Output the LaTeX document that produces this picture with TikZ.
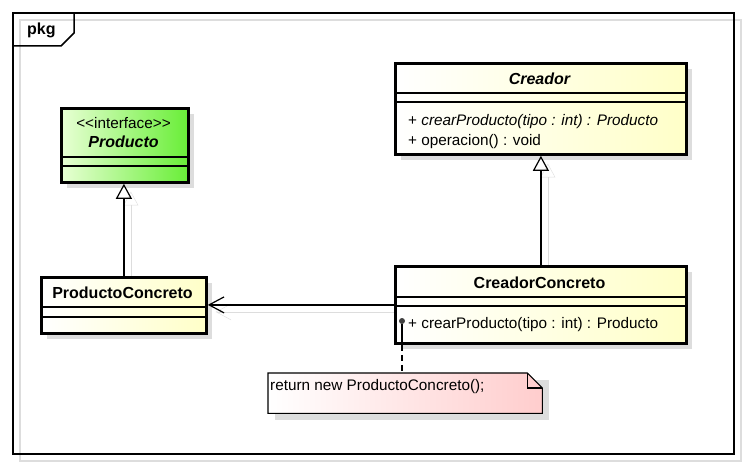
\documentclass[tikz,border=0pt]{standalone}
\usepackage{fontspec}
\setmainfont{Liberation Sans}
\usetikzlibrary{arrows.meta,shadows,positioning}

\definecolor{claseAmarillo}{RGB}{255,255,200}
\definecolor{interfazClaro}{RGB}{232,255,212}
\definecolor{interfazVerde}{RGB}{105,238,55}
\definecolor{notaRosa}{RGB}{255,205,205}
\definecolor{sombra}{RGB}{221,221,221}

\pgfdeclarelayer{sombras}
\pgfdeclarelayer{conectores}
\pgfsetlayers{sombras,conectores,main}

\tikzset{
  clase/.style={draw, line width=2.8pt, inner sep=0pt, anchor=north west,
    left color=white, right color=claseAmarillo},
  interfaz/.style={clase, left color=interfazClaro, right color=interfazVerde},
  separador/.style={line width=1.1pt},
  titulo/.style={font=\fontsize{16}{19}\selectfont\bfseries, anchor=base, inner sep=0pt},
  miembro/.style={font=\fontsize{15.3}{18}\selectfont, anchor=base west, inner sep=0pt},
  conSombra/.style={preaction={draw=sombra, transform canvas={xshift=7pt, yshift=-7pt}}},
  herencia/.style={conSombra, line width=1.2pt, -{Triangle[open, length=15pt, width=16pt, line width=1.2pt]}},
  asociacion/.style={conSombra, line width=1.2pt, -{Straight Barb[length=15pt, width=16pt, line width=1.2pt]}},
  enlaceNota/.style={line width=1.2pt, dash pattern=on 6pt off 4pt},
}

\begin{document}
\begin{tikzpicture}[x=1pt, y=-1pt]
  \useasboundingbox (0,0) rectangle (748,468);

  % Marco del paquete
  \draw[sombra, line width=1.5pt] (20,20) rectangle (741,461);
  \draw[line width=1.5pt] (13,13) rectangle (734,454);
  \draw[line width=1.5pt] (13,46) -- (61,46) -- (74,33) -- (74,13);
  \node[titulo, anchor=base west] (pkg) at (27,35) {pkg};

  % Sombras
  \begin{pgfonlayer}{sombras}
    \fill[sombra] (67,114) rectangle (194,188);
    \fill[sombra] (47,283) rectangle (212,339);
    \fill[sombra] (401,69) rectangle (692,160);
    \fill[sombra] (401,272) rectangle (692,349);
    \fill[sombra] (275,380) rectangle (549,420);
  \end{pgfonlayer}

  % Clases
  \node[interfaz, minimum width=127pt, minimum height=74pt] (producto) at (60,107) {};
  \node[clase, minimum width=165pt, minimum height=56pt] (productoConcreto) at (40,276) {};
  \node[clase, minimum width=291pt, minimum height=91pt] (creador) at (394,62) {};
  \node[clase, minimum width=291pt, minimum height=77pt] (creadorConcreto) at (394,265) {};

  % Producto
  \node[miembro, anchor=base] (productoEstereotipo) at (123.5,128.5) {{<}{<}interface{>}{>}};
  \node[titulo] (productoNombre) at (123.5,147.5) {\itshape Producto};
  \draw[separador] (producto.west |- 0,157) -- (producto.east |- 0,157);
  \draw[separador] (producto.west |- 0,166) -- (producto.east |- 0,166);

  % ProductoConcreto
  \node[titulo] (productoConcretoNombre) at (122.5,298.5) {ProductoConcreto};
  \draw[separador] (productoConcreto.west |- 0,307) -- (productoConcreto.east |- 0,307);
  \draw[separador] (productoConcreto.west |- 0,317) -- (productoConcreto.east |- 0,317);

  % Creador
  \node[titulo] (creadorNombre) at (539.5,84.5) {\itshape Creador};
  \draw[separador] (creador.west |- 0,93) -- (creador.east |- 0,93);
  \draw[separador] (creador.west |- 0,102) -- (creador.east |- 0,102);
  \node[miembro] (creadorOp1) at (408,125.5) {+ \itshape crearProducto(tipo : int) : Producto};
  \node[miembro] (creadorOp2) at (408,145.5) {+ operacion() : void};

  % CreadorConcreto
  \node[titulo] (creadorConcretoNombre) at (539.5,288.5) {CreadorConcreto};
  \draw[separador] (creadorConcreto.west |- 0,297) -- (creadorConcreto.east |- 0,297);
  \draw[separador] (creadorConcreto.west |- 0,306) -- (creadorConcreto.east |- 0,306);
  \node[miembro] (creadorConcretoOp) at (408,328.5) {+ crearProducto(tipo : int) : Producto};
  \node[circle, fill=black!75, inner sep=0pt, minimum size=6pt] (opPunto) at (402,321) {};

  % Nota
  \node[inner sep=0pt, minimum width=274pt, minimum height=40pt, anchor=north west] (nota) at (268,373) {};
  \draw[line width=1.1pt, left color=white, right color=notaRosa]
    (nota.north west) -- ([xshift=-15pt]nota.north east) -- ([yshift=-15pt]nota.north east)
    -- (nota.south east) -- (nota.south west) -- cycle;
  \draw[line width=1.1pt] ([xshift=-15pt]nota.north east) -- ([xshift=-15pt,yshift=-15pt]nota.north east)
    -- ([yshift=-15pt]nota.north east);
  \node[miembro] (notaTexto) at (270,390.5) {return new ProductoConcreto();};

  % Relaciones
  \begin{pgfonlayer}{conectores}
    \draw[herencia] (productoConcreto.north) -- (productoConcreto.north |- producto.south);
    \draw[herencia] (creadorConcreto.north) -- (creadorConcreto.north |- creador.south);
    \draw[asociacion] (creadorConcreto.west) -- (creadorConcreto.west -| productoConcreto.east);
  \end{pgfonlayer}
  \draw[line width=1.2pt] (opPunto) -- (opPunto |- creadorConcreto.south);
  \draw[enlaceNota] (opPunto |- creadorConcreto.south) -- (opPunto |- nota.north);
\end{tikzpicture}
\end{document}
